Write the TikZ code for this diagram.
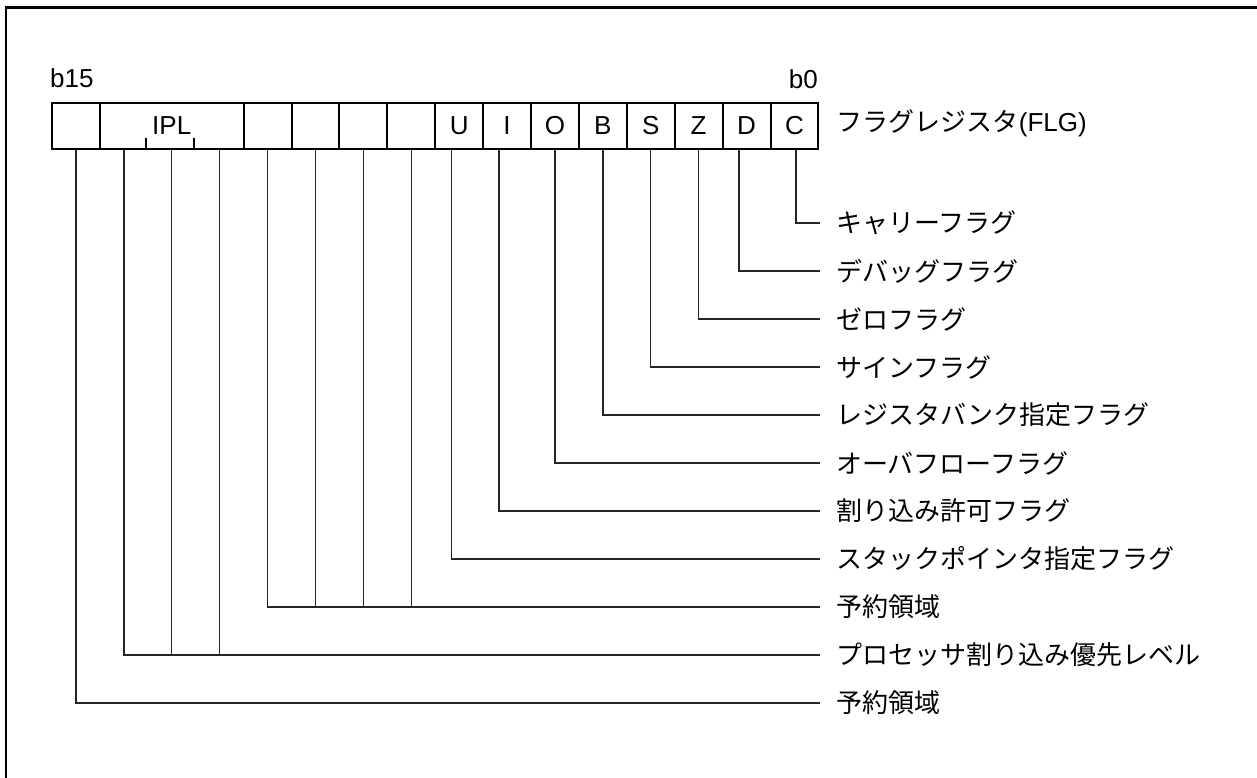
\documentclass[tikz,border=0pt]{standalone}
\usepackage{fontspec}
\setmainfont{Liberation Sans}
\newfontfamily\cjk{Noto Sans CJK JP}
\begin{document}
\begin{tikzpicture}[x=1pt,y=-1pt,
  cell/.style={draw,line width=2pt,minimum width=47.9pt,minimum height=46pt,inner sep=0pt,font=\fontsize{26}{30}\selectfont},
  conn/.style={draw=black!85,line width=1.3pt},
  lbl/.style={anchor=west,inner xsep=16pt,inner ysep=0pt,font=\cjk\fontsize{26}{30}\selectfont},
  bit/.style={font=\fontsize{26}{30}\selectfont,inner sep=0pt}]
\clip (0,0) rectangle (1257,778);
\useasboundingbox (0,0) rectangle (1257,778);
\draw[line width=2.5pt] (6,7.5) rectangle (1300,820);

% register cells
\node[cell] (c0) at (75.95,126) {};
\node[cell,minimum width=143.7pt] (ipl) at (171.75,126) {IPL};
\foreach \j/\t in {4/{},5/{},6/{},7/{},8/U,9/I,10/O,11/B,12/S,13/Z,14/D,15/C}
  \node[cell] (c\j) at ({52+47.9*(\j+0.5)},126) {\t};
\draw[line width=1.3pt] ([xshift=-25.9pt]ipl.south) -- ++(0,-12);
\draw[line width=1.3pt] ([xshift=22.1pt]ipl.south) -- ++(0,-12);

% bit labels
\node[bit,anchor=west] (b15) at (50,78) {b15};
\node[bit,anchor=east] (b0) at (818,79) {b0};
\node[anchor=west,inner sep=0pt,font=\fontsize{26}{30}\selectfont] (flg) at (836.7,123) {{\cjk フラグレジスタ}(FLG)};

% descriptions
\foreach \k/\t in {0/キャリーフラグ,1/デバッグフラグ,2/ゼロフラグ,3/サインフラグ,4/レジスタバンク指定フラグ,5/オーバフローフラグ,6/割り込み許可フラグ,7/スタックポインタ指定フラグ,8/予約領域,9/プロセッサ割り込み優先レベル,10/予約領域}
  \node[lbl] (t\k) at (820,{223+48*\k}) {\t};

% connectors
\draw[conn] ([xshift=1.5pt]c15.south) |- (t0.west);
\draw[conn] ([xshift=-7.5pt]c14.south) |- (t1.west);
\draw[conn] (c13.south) |- (t2.west);
\draw[conn] (c12.south) |- (t3.west);
\draw[conn] (c11.south) |- (t4.west);
\draw[conn] (c10.south) |- (t5.west);
\draw[conn] ([xshift=-8pt]c9.south) |- (t6.west);
\draw[conn] ([xshift=-8pt]c8.south) |- (t7.west);
\draw[conn] (c4.south) |- (t8.west);
\foreach \j in {5,6,7}
  \draw[conn] (c\j.south) -- (c\j.south |- t8.west);
\draw[conn] ([xshift=-47.9pt]ipl.south) |- (t9.west);
\draw[conn] (ipl.south) -- (ipl.south |- t9.west);
\draw[conn] ([xshift=47.9pt]ipl.south) -- ([xshift=47.9pt]ipl.south |- t9.west);
\draw[conn] (c0.south) |- (t10.west);
\end{tikzpicture}
\end{document}
